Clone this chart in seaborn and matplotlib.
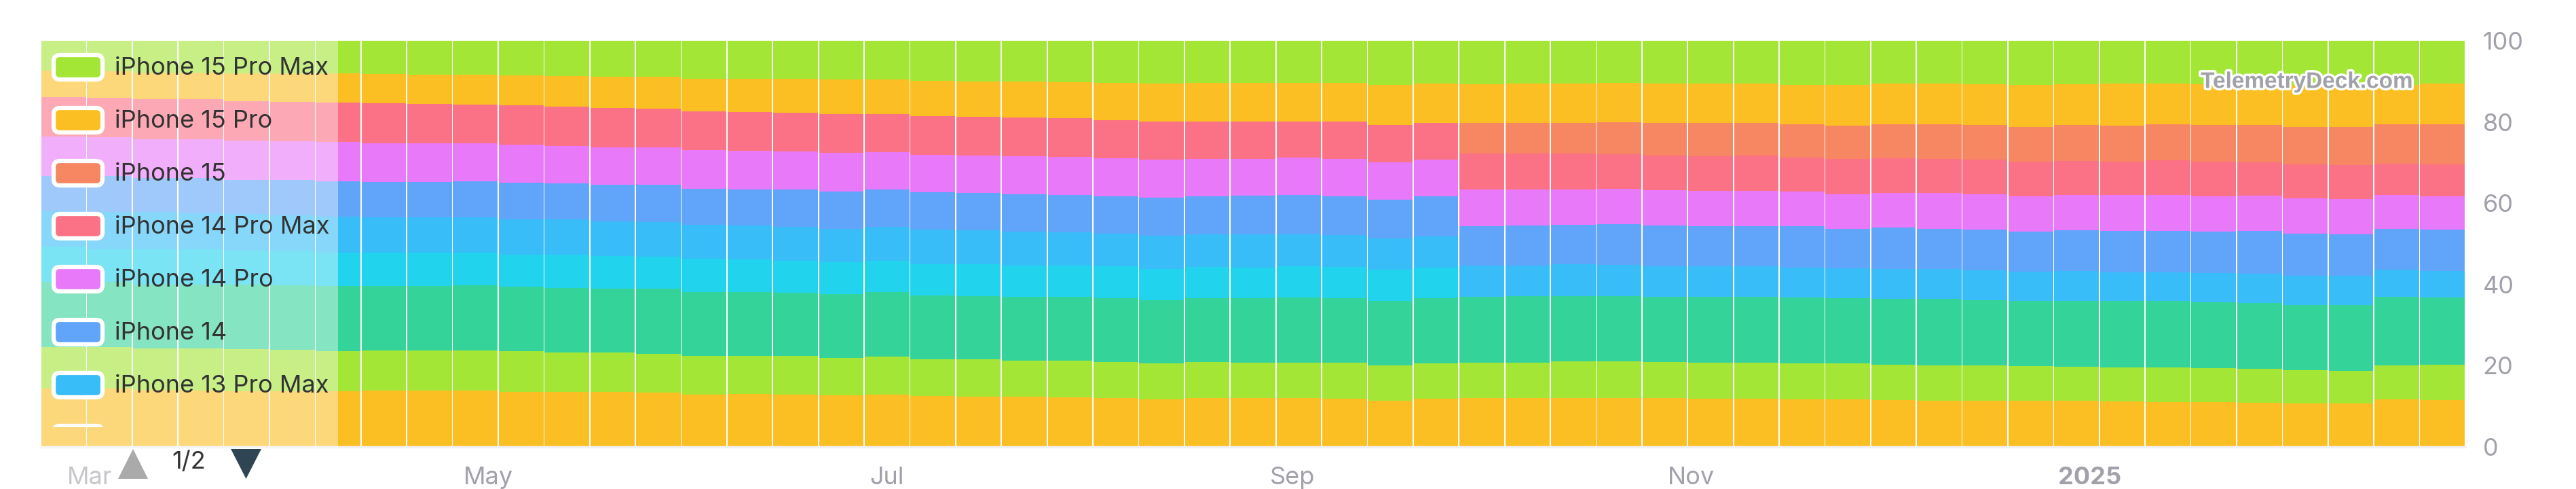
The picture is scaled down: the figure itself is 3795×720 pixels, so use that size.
import numpy as np
import pandas as pd
import matplotlib
matplotlib.use("Agg")
import matplotlib.pyplot as plt
import matplotlib.dates as mdates
import matplotlib.patheffects as pe
from matplotlib.patches import Rectangle, FancyBboxPatch, Polygon
from matplotlib.transforms import IdentityTransform, Bbox
import seaborn as sns

# weekly buckets (Mondays)
weeks = pd.date_range("2024-02-26", periods=53, freq="7D")

models = ["iPhone 15 Pro Max", "iPhone 15 Pro", "iPhone 15", "iPhone 14 Pro Max",
          "iPhone 14 Pro", "iPhone 14", "iPhone 13 Pro Max", "iPhone 13 Pro",
          "iPhone 13", "iPhone 12", "Other"]
colors = ["#a3e635", "#fbbf24", "#f78662", "#fb7185", "#e879f9", "#60a5fa",
          "#38bdf8", "#22d3ee", "#34d399", "#a3e635", "#fbbf24"]

# share of devices per week, in percent
iphone_15_pro_max = [7.3, 7.5, 7.8, 7.8, 8.1, 8.1, 8.1, 8.2, 8.3, 8.4,
                     8.5, 8.7, 8.9, 8.9, 9.3, 9.4, 9.4, 9.5, 9.5, 9.9,
                     10.0, 10.1, 10.2, 10.3, 10.6, 10.4, 10.4, 10.4, 10.4, 10.9,
                     10.6, 10.7, 10.6, 10.6, 10.3, 10.6, 10.6, 10.6, 10.8, 10.9,
                     10.6, 10.6, 10.7, 10.9, 10.7, 10.6, 10.6, 10.7, 10.6, 10.9,
                     10.9, 10.8, 10.6]
iphone_15_pro = [6.6, 6.6, 6.6, 6.6, 6.7, 6.9, 7.1, 7.2, 7.3, 7.3,
                 7.4, 7.6, 7.7, 7.9, 8.1, 8.2, 8.4, 8.6, 8.6, 8.6,
                 8.7, 8.8, 8.9, 9.2, 9.4, 9.4, 9.5, 9.5, 9.5, 9.9,
                 9.7, 9.5, 9.7, 9.6, 9.7, 9.6, 9.7, 9.7, 9.8, 10.0,
                 10.0, 10.0, 10.0, 10.3, 10.0, 10.2, 10.0, 10.0, 10.1, 10.3,
                 10.4, 9.8, 10.0]
iphone_15 = [0, 0, 0, 0, 0, 0, 0, 0, 0, 0,
             0, 0, 0, 0, 0, 0, 0, 0, 0, 0,
             0, 0, 0, 0, 0, 0, 0, 0, 0, 0,
             0, 7.5, 7.5, 7.6, 8.0, 8.1, 8.1, 8.1, 8.1, 8.3,
             8.4, 8.5, 8.6, 8.6, 8.9, 8.9, 8.9, 9.1, 9.3, 9.3,
             9.3, 9.6, 9.8]
iphone_14_pro_max = [9.8, 9.7, 9.9, 9.9, 9.8, 9.8, 9.8, 9.8, 9.6, 9.5,
                     9.7, 9.6, 9.6, 9.4, 9.5, 9.5, 9.5, 9.5, 9.3, 9.6,
                     9.5, 9.5, 9.5, 9.4, 9.3, 9.3, 9.2, 8.9, 9.2, 9.1,
                     8.9, 8.9, 8.9, 8.8, 8.5, 8.5, 8.5, 8.7, 8.5, 8.6,
                     8.5, 8.4, 8.5, 8.6, 8.4, 8.3, 8.4, 8.4, 8.2, 8.4,
                     8.4, 7.8, 7.8]
iphone_14_pro = [9.7, 9.5, 9.5, 9.5, 9.7, 9.5, 9.7, 9.5, 9.5, 9.4,
                 9.4, 9.3, 9.3, 9.3, 9.5, 9.5, 9.4, 9.5, 9.3, 9.2,
                 9.2, 9.3, 9.3, 9.3, 9.3, 9.2, 9.1, 9.2, 9.2, 9.2,
                 9.1, 9.0, 8.9, 8.7, 8.6, 8.7, 8.7, 8.6, 8.5, 8.5,
                 8.6, 8.7, 8.7, 8.7, 8.7, 8.7, 8.9, 8.7, 8.7, 8.7,
                 8.6, 8.3, 8.3]
iphone_14 = [8.7, 8.8, 8.4, 8.7, 8.4, 8.8, 8.7, 8.7, 8.8, 8.9,
             8.9, 8.8, 9.0, 9.2, 8.9, 9.0, 9.1, 9.2, 9.1, 9.3,
             9.3, 9.3, 9.2, 9.2, 9.5, 9.3, 9.5, 9.6, 9.6, 9.5,
             9.8, 9.7, 9.8, 9.8, 10.1, 10.0, 10.0, 10.0, 10.1, 9.8,
             10.2, 10.0, 10.1, 9.8, 10.0, 10.3, 10.3, 10.3, 10.5, 10.3,
             10.3, 10.1, 10.1]
iphone_13_pro_max = [8.6, 9.2, 9.2, 8.9, 8.9, 8.8, 8.8, 8.7, 8.7, 8.7,
                     8.7, 8.7, 8.5, 8.4, 8.4, 8.3, 8.4, 8.2, 8.3, 8.4,
                     8.4, 8.3, 8.2, 8.1, 8.1, 8.1, 8.1, 8.0, 7.8, 7.8,
                     7.8, 7.8, 7.6, 7.7, 7.6, 7.5, 7.4, 7.5, 7.4, 7.3,
                     7.3, 7.3, 7.3, 7.3, 7.3, 7.0, 7.0, 7.1, 7.1, 7.2,
                     7.2, 6.7, 6.5]
iphone_13_pro = [8.8, 8.1, 8.7, 8.7, 8.5, 8.4, 8.2, 8.2, 8.2, 8.1,
                 8.0, 8.1, 8.0, 8.0, 8.1, 8.0, 7.9, 7.9, 7.8, 7.8,
                 7.8, 7.7, 7.7, 7.8, 7.8, 7.6, 7.6, 7.6, 7.6, 7.6,
                 7.4, 0, 0, 0, 0, 0, 0, 0, 0, 0,
                 0, 0, 0, 0, 0, 0, 0, 0, 0, 0,
                 0, 0, 0]
iphone_13 = [16.0, 16.1, 15.7, 15.7, 15.9, 15.8, 16.1, 16.0, 15.8, 16.1,
             15.9, 15.9, 15.8, 16.0, 15.8, 15.8, 15.6, 15.7, 15.8, 15.7,
             15.6, 15.7, 15.8, 15.8, 15.5, 15.8, 15.8, 16.0, 16.0, 15.9,
             16.1, 16.1, 16.3, 16.2, 16.2, 16.1, 16.3, 16.3, 16.2, 16.1,
             16.2, 16.3, 16.1, 16.1, 16.3, 16.3, 16.4, 16.2, 16.2, 16.1,
             16.1, 16.8, 16.6]
iphone_12 = [10.3, 10.2, 10.1, 10.3, 10.3, 10.3, 9.9, 9.8, 9.9, 9.8,
             9.9, 9.7, 9.7, 9.6, 9.5, 9.4, 9.5, 9.2, 9.4, 9.1,
             9.2, 8.9, 9.0, 8.7, 8.9, 8.8, 8.8, 8.8, 8.9, 8.7,
             8.7, 8.8, 8.8, 9.0, 9.0, 8.8, 8.9, 8.8, 8.9, 8.9,
             8.8, 8.7, 8.6, 8.5, 8.4, 8.4, 8.4, 8.3, 8.4, 8.2,
             8.1, 8.4, 8.6]
other = [14.4, 14.3, 14.1, 13.9, 13.7, 13.7, 13.7, 13.9, 13.9, 13.9,
         13.6, 13.6, 13.5, 13.3, 12.9, 13.0, 12.9, 12.8, 12.9, 12.5,
         12.3, 12.3, 12.2, 12.1, 11.7, 12.0, 12.0, 12.0, 11.8, 11.4,
         11.9, 12.0, 12.0, 12.0, 12.0, 12.0, 11.8, 11.9, 11.7, 11.7,
         11.5, 11.4, 11.4, 11.4, 11.3, 11.2, 11.1, 11.1, 10.9, 10.7,
         10.7, 11.7, 11.6]

series = [iphone_15_pro_max, iphone_15_pro, iphone_15, iphone_14_pro_max,
          iphone_14_pro, iphone_14, iphone_13_pro_max, iphone_13_pro,
          iphone_13, iphone_12, other]

tick_dates = pd.to_datetime(["2024-03-01", "2024-05-01", "2024-07-01",
                             "2024-09-01", "2024-11-01", "2025-01-01"])
tick_labels = ["Mar", "May", "Jul", "Sep", "Nov", "2025"]

# long table, each week scaled to 100 %
rows = []
for name, vals in zip(models, series):
    for w, v in zip(weeks, vals):
        rows.append((mdates.date2num(w), name, v))
df = pd.DataFrame(rows, columns=["week", "model", "share"])
df["share"] = df["share"] / df.groupby("week")["share"].transform("sum") * 100

sns.set_style("white")
plt.rcParams["font.family"] = ["Inter", "DejaVu Sans"]

W, H = 3795, 720
fig = plt.figure(figsize=(W / 100, H / 100), dpi=100)
ax = fig.add_axes([60 / W, 62 / H, (3632 - 60) / W, (658 - 60) / H])

centers = mdates.date2num(weeks)
edges = [c - 3.5 for c in centers] + [centers[-1] + 3.5]
sns.histplot(data=df, x="week", weights="share", hue="model", hue_order=models,
             palette=dict(zip(models, colors)), multiple="stack", bins=edges,
             shrink=0.975, alpha=1, linewidth=0, edgecolor="none",
             legend=False, ax=ax)

ax.set_xlim(edges[0], edges[-1])
ax.set_ylim(0, 100)
ax.set_xlabel("")
ax.set_ylabel("")
ax.yaxis.tick_right()
ax.set_yticks([0, 20, 40, 60, 80, 100])
ax.tick_params(axis="y", length=0, pad=18.5, labelsize=26, labelcolor="#a1a1aa")
ax.set_xticks(mdates.date2num(tick_dates))
ax.set_xticklabels(tick_labels)
ax.tick_params(axis="x", length=0, pad=21, labelsize=26, labelcolor="#a1a1aa")
ax.get_xticklabels()[-1].set_fontweight("bold")
for s in ["top", "left", "right"]:
    ax.spines[s].set_visible(False)
ax.spines["bottom"].set_color("#f0f0f0")
ax.spines["bottom"].set_linewidth(2.5)

px = IdentityTransform()

# legend box (semi transparent) over the left part
fig.add_artist(Rectangle((52, H - 716), 498 - 52, 716 - 60, transform=px,
                         facecolor="white", alpha=0.4, edgecolor="none", zorder=5))

clip = Bbox.from_extents(0, H - 629, 600, H - 60)
for i, (name, col) in enumerate(zip(models[:8], colors[:8])):
    yc = 99 + 78 * i
    sw = FancyBboxPatch((79, H - yc - 18), 72, 36,
                        boxstyle="round,pad=0,rounding_size=9", transform=px,
                        facecolor=col, edgecolor="white", linewidth=4.5, zorder=6)
    sw.set_clip_box(clip)
    fig.add_artist(sw)
    t = fig.text(169 / W, (H - (110.5 + 78 * i)) / H, name, ha="left", va="baseline",
                 fontsize=26, color="#333333", zorder=7)
    t.set_clip_box(clip)

# legend pager
fig.add_artist(Polygon([[174, H - 705], [218, H - 705], [196, H - 661]], closed=True,
                       transform=px, facecolor="#aaaaaa", edgecolor="none", zorder=7))
fig.add_artist(Polygon([[340, H - 661], [385, H - 661], [362.5, H - 705]], closed=True,
                       transform=px, facecolor="#2f4554", edgecolor="none", zorder=7))
fig.text(278 / W, (H - 681) / H, "1/2", ha="center", va="center", fontsize=26,
         color="#333333", zorder=7)

# watermark
fig.text(3555 / W, (H - 121) / H, "TelemetryDeck.com", ha="right", va="center",
         fontsize=24, fontweight="bold", family=["Liberation Sans", "DejaVu Sans"],
         color="#a1a1aa", zorder=8,
         path_effects=[pe.withStroke(linewidth=5, foreground="white")])

fig.savefig("out.png", dpi=100)
